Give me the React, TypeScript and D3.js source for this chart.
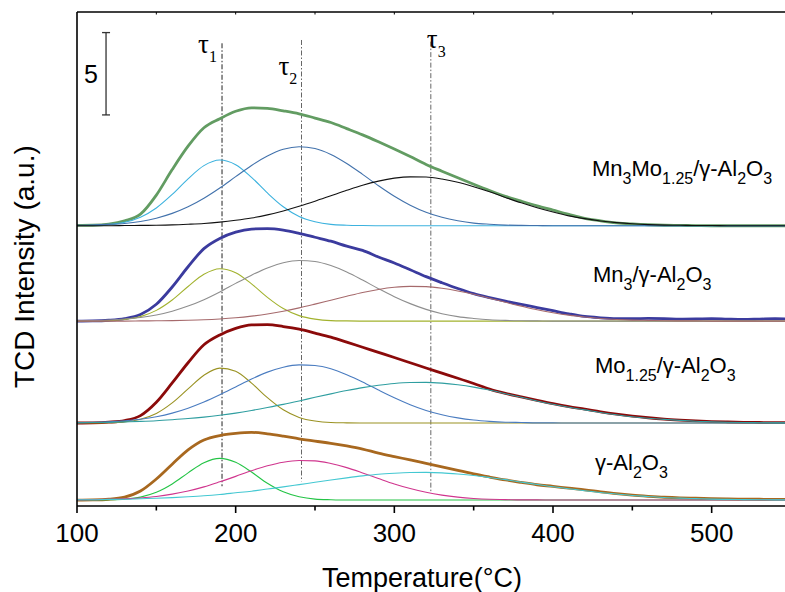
import React from 'react';
import * as d3 from 'd3';

// ---------- DATA ----------
const temperatures = [
  100, 110, 120, 130, 140, 150, 160, 170, 180, 190,
  200, 210, 220, 230, 240, 250, 260, 270, 280, 290,
  300, 310, 320, 330, 340, 350, 360, 370, 380, 390,
  400, 410, 420, 430, 440, 450, 460, 470, 480, 490,
  500, 510, 520, 530, 540, 550,
];

// Mn3Mo1.25/γ-Al2O3
const mnMoEnvelope = [
  0.02, 0.03, 0.1, 0.3, 0.7, 1.86, 3.41, 4.83, 5.95, 6.5,
  6.95, 7.16, 7.13, 6.98, 6.8, 6.54, 6.27, 5.9, 5.52, 5.1,
  4.66, 4.2, 3.72, 3.31, 2.91, 2.52, 2.14, 1.78, 1.49, 1.21,
  0.95, 0.69, 0.45, 0.3, 0.18, 0.11, 0.06, 0.03, 0.02, 0.01,
  0, 0, 0, 0, 0, 0,
];
const mnMoPeak1 = [
  0.01, 0.02, 0.08, 0.21, 0.52, 1.08, 1.9, 2.85, 3.65, 3.99,
  3.71, 2.94, 1.99, 1.15, 0.56, 0.24, 0.08, 0.03, 0.01, 0,
  0, 0, 0, 0, 0, 0, 0, 0, 0, 0,
  0, 0, 0, 0, 0, 0, 0, 0, 0, 0,
  0, 0, 0, 0, 0, 0,
];
const mnMoPeak2 = [
  0.02, 0.04, 0.08, 0.14, 0.26, 0.46, 0.75, 1.15, 1.67, 2.29,
  2.98, 3.66, 4.23, 4.64, 4.8, 4.69, 4.33, 3.78, 3.12, 2.43,
  1.79, 1.25, 0.82, 0.51, 0.3, 0.16, 0.09, 0.04, 0.02, 0.01,
  0, 0, 0, 0, 0, 0, 0, 0, 0, 0,
  0, 0, 0, 0, 0, 0,
];
const mnMoPeak3 = [
  0, 0, 0, 0.01, 0.02, 0.03, 0.05, 0.09, 0.14, 0.22,
  0.33, 0.47, 0.66, 0.9, 1.18, 1.49, 1.82, 2.15, 2.46, 2.71,
  2.89, 2.97, 2.96, 2.84, 2.64, 2.37, 2.06, 1.72, 1.39, 1.09,
  0.83, 0.6, 0.43, 0.29, 0.19, 0.12, 0.07, 0.04, 0.03, 0.01,
  0.01, 0, 0, 0, 0, 0,
];

// Mn3/γ-Al2O3
const mnEnvelope = [
  0, 0.01, 0.05, 0.15, 0.4, 1.02, 2.07, 3.3, 4.4, 5.02,
  5.4, 5.59, 5.62, 5.53, 5.33, 5.09, 4.85, 4.55, 4.29, 3.89,
  3.53, 3.12, 2.7, 2.33, 1.98, 1.67, 1.43, 1.21, 1.01, 0.82,
  0.63, 0.44, 0.28, 0.2, 0.15, 0.14, 0.16, 0.15, 0.12, 0.13,
  0.15, 0.12, 0.1, 0.12, 0.14, 0.12,
];
const mnPeak1 = [
  0, 0.01, 0.03, 0.1, 0.27, 0.65, 1.28, 2.1, 2.84, 3.18,
  2.94, 2.26, 1.44, 0.76, 0.33, 0.12, 0.03, 0.01, 0, 0,
  0, 0, 0, 0, 0, 0, 0, 0, 0, 0,
  0, 0, 0, 0, 0, 0, 0, 0, 0, 0,
  0, 0, 0, 0, 0, 0,
];
const mnPeak2 = [
  0.02, 0.03, 0.07, 0.13, 0.22, 0.37, 0.6, 0.91, 1.3, 1.77,
  2.29, 2.79, 3.23, 3.54, 3.68, 3.62, 3.37, 2.98, 2.49, 1.97,
  1.48, 1.06, 0.71, 0.45, 0.27, 0.16, 0.08, 0.04, 0.02, 0.01,
  0, 0, 0, 0, 0, 0, 0, 0, 0, 0,
  0, 0, 0, 0, 0, 0,
];
const mnPeak3 = [
  0, 0, 0, 0, 0.01, 0.02, 0.03, 0.05, 0.08, 0.13,
  0.2, 0.3, 0.43, 0.6, 0.8, 1.03, 1.27, 1.51, 1.74, 1.92,
  2.05, 2.11, 2.09, 1.99, 1.83, 1.63, 1.39, 1.14, 0.91, 0.69,
  0.51, 0.36, 0.25, 0.16, 0.1, 0.06, 0.04, 0.02, 0.01, 0.01,
  0, 0, 0, 0, 0, 0,
];

// Mo1.25/γ-Al2O3
const moEnvelope = [
  0, 0.01, 0.05, 0.15, 0.45, 1.26, 2.43, 3.66, 4.75, 5.35,
  5.75, 5.96, 5.97, 5.86, 5.7, 5.46, 5.21, 4.91, 4.6, 4.29,
  3.98, 3.66, 3.34, 3.03, 2.72, 2.4, 2.06, 1.8, 1.58, 1.37,
  1.17, 0.99, 0.84, 0.68, 0.54, 0.42, 0.32, 0.24, 0.18, 0.13,
  0.09, 0.06, 0.04, 0.03, 0.02, 0.02,
];
const moPeak1 = [
  0, 0, 0.02, 0.07, 0.23, 0.58, 1.22, 2.07, 2.9, 3.33,
  3.14, 2.42, 1.54, 0.8, 0.34, 0.12, 0.03, 0.01, 0, 0,
  0, 0, 0, 0, 0, 0, 0, 0, 0, 0,
  0, 0, 0, 0, 0, 0, 0, 0, 0, 0,
  0, 0, 0, 0, 0, 0,
];
const moPeak2 = [
  0.02, 0.04, 0.07, 0.13, 0.23, 0.38, 0.6, 0.9, 1.27, 1.71,
  2.19, 2.67, 3.09, 3.39, 3.53, 3.49, 3.29, 2.93, 2.49, 2.0,
  1.53, 1.11, 0.76, 0.5, 0.31, 0.18, 0.1, 0.05, 0.03, 0.01,
  0.01, 0, 0, 0, 0, 0, 0, 0, 0, 0,
  0, 0, 0, 0, 0, 0,
];
const moPeak3 = [
  0.02, 0.03, 0.04, 0.07, 0.1, 0.14, 0.2, 0.27, 0.36, 0.47,
  0.6, 0.76, 0.94, 1.13, 1.34, 1.56, 1.77, 1.97, 2.15, 2.29,
  2.4, 2.46, 2.47, 2.42, 2.32, 2.18, 2.0, 1.78, 1.56, 1.34,
  1.14, 0.96, 0.8, 0.64, 0.5, 0.38, 0.29, 0.22, 0.16, 0.11,
  0.08, 0.05, 0.03, 0.02, 0.01, 0.01,
];

// γ-Al2O3
const alEnvelope = [
  0, 0.01, 0.05, 0.18, 0.55, 1.28, 2.18, 3.05, 3.65, 3.92,
  4.05, 4.11, 4.02, 3.88, 3.72, 3.58, 3.45, 3.29, 3.1, 2.85,
  2.64, 2.44, 2.23, 2.02, 1.8, 1.59, 1.4, 1.22, 1.07, 0.93,
  0.83, 0.72, 0.62, 0.5, 0.39, 0.3, 0.23, 0.17, 0.13, 0.11,
  0.09, 0.07, 0.06, 0.05, 0.04, 0.04,
];
const alPeak1 = [
  0, 0, 0.02, 0.06, 0.18, 0.47, 0.98, 1.65, 2.27, 2.53,
  2.29, 1.7, 1.02, 0.5, 0.2, 0.06, 0.02, 0, 0, 0,
  0, 0, 0, 0, 0, 0, 0, 0, 0, 0,
  0, 0, 0, 0, 0, 0, 0, 0, 0, 0,
  0, 0, 0, 0, 0, 0,
];
const alPeak2 = [
  0.01, 0.02, 0.04, 0.07, 0.13, 0.22, 0.36, 0.55, 0.8, 1.11,
  1.44, 1.78, 2.08, 2.3, 2.4, 2.38, 2.22, 1.97, 1.65, 1.31,
  0.98, 0.7, 0.47, 0.3, 0.18, 0.1, 0.05, 0.03, 0.01, 0.01,
  0, 0, 0, 0, 0, 0, 0, 0, 0, 0,
  0, 0, 0, 0, 0, 0,
];
const alPeak3 = [
  0.02, 0.02, 0.04, 0.05, 0.08, 0.11, 0.15, 0.2, 0.26, 0.34,
  0.44, 0.54, 0.67, 0.8, 0.94, 1.08, 1.22, 1.35, 1.47, 1.57,
  1.63, 1.67, 1.68, 1.65, 1.58, 1.49, 1.37, 1.24, 1.09, 0.95,
  0.81, 0.69, 0.57, 0.46, 0.37, 0.28, 0.22, 0.16, 0.12, 0.09,
  0.06, 0.04, 0.03, 0.02, 0.01, 0.01,
];

// vertical stacking offsets (a.u.) of each sample's baseline
const sampleOffsets = [17.02, 11.23, 5.04, 0.36];

// sample names: [text, isSubscript]
const sampleNames: [string, boolean][][] = [
  [['Mn', false], ['3', true], ['Mo', false], ['1.25', true], ['/γ-Al', false], ['2', true], ['O', false], ['3', true]],
  [['Mn', false], ['3', true], ['/γ-Al', false], ['2', true], ['O', false], ['3', true]],
  [['Mo', false], ['1.25', true], ['/γ-Al', false], ['2', true], ['O', false], ['3', true]],
  [['γ-Al', false], ['2', true], ['O', false], ['3', true]],
];

// reduction peak markers (°C)
const tauTemps = [191.4, 241.5, 323];
const tauNames = ['1', '2', '3'];
const tauTop = [28.1, 28.3, 28.2];
const tauBottom = [1.2, 1.5, 0.9];

const xMajorTicks = [100, 200, 300, 400, 500];
const xMinorTicks = [150, 250, 350, 450];
const xTopTicks = [150, 200, 250, 300, 350, 400, 450, 500];
const scaleBarValue = 5;
const scaleBarTemp = 118.3;
const scaleBarBase = 23.75;

const xLabel = 'Temperature(°C)';
const yLabel = 'TCD Intensity (a.u.)';

// ---------- STYLES ----------
const envelopeColors = ['#629c62', '#3b3b9e', '#8b0a0a', '#a8681f'];
const peakColors = [
  ['#3cb2de', '#4272ac', '#111111'],
  ['#a2b22e', '#8e8e8e', '#a66a6c'],
  ['#9a9222', '#4a7cc0', '#2f9ea0'],
  ['#24c446', '#d0358e', '#44c8d2'],
];
const labelPos = [
  { x: 592, y: 176 },
  { x: 593, y: 282 },
  { x: 595, y: 373 },
  { x: 595, y: 470 },
];
const tauLabelPos = [
  { dx: -24, y: 53 },
  { dx: -23, y: 75 },
  { dx: -4, y: 48 },
];
const tauColors = ['#222', '#666', '#666'];

const W = 785;
const H = 592;
const L = 77;
const R = 791;
const T = 12;
const B = 506;
const SANS = '"Liberation Sans", Arial, sans-serif';
const SERIF = '"Liberation Serif", "Times New Roman", serif';

export default function App() {
  const x = d3.scaleLinear().domain([100, 550]).range([L, R]);
  const y = d3.scaleLinear().domain([0, 30]).range([B, T]);

  const samples = [
    { env: mnMoEnvelope, peaks: [mnMoPeak1, mnMoPeak2, mnMoPeak3] },
    { env: mnEnvelope, peaks: [mnPeak1, mnPeak2, mnPeak3] },
    { env: moEnvelope, peaks: [moPeak1, moPeak2, moPeak3] },
    { env: alEnvelope, peaks: [alPeak1, alPeak2, alPeak3] },
  ];

  const makeLine = (offset: number) =>
    d3
      .line<number>()
      .x((_, i) => x(temperatures[i]))
      .y((d) => y(d + offset))
      .curve(d3.curveMonotoneX);

  return (
    <svg
      width={W}
      height={H}
      style={{ position: 'absolute', left: 0, top: 0, background: '#fff', display: 'block' }}
    >
      <rect x={0} y={0} width={W} height={H} fill="#fff" />
      {/* tau lines */}
      {tauTemps.map((t, i) => (
        <line
          key={'tl' + i}
          x1={x(t)}
          x2={x(t)}
          y1={y(tauTop[i])}
          y2={y(tauBottom[i])}
          stroke={tauColors[i]}
          strokeWidth={1}
          strokeDasharray="5,2,1.5,2"
        />
      ))}
      {/* curves */}
      {samples.map((s, si) => {
        const line = makeLine(sampleOffsets[si]);
        return (
          <g key={'s' + si} fill="none">
            <path d={line(s.env) || ''} stroke={envelopeColors[si]} strokeWidth={2.8} strokeLinejoin="round" />
            {s.peaks.map((p, pi) => (
              <path key={pi} d={line(p) || ''} stroke={peakColors[si][pi]} strokeWidth={1.1} />
            ))}
          </g>
        );
      })}
      {/* axes */}
      <g stroke="#000" strokeWidth={1.6} fill="none">
        <line x1={L} x2={R} y1={B} y2={B} />
        <line x1={L} x2={L} y1={T} y2={B} />
        <line x1={L} x2={R} y1={T} y2={T} />
        {xMajorTicks.map((t) => (
          <line key={'M' + t} x1={x(t)} x2={x(t)} y1={B} y2={B + 7} />
        ))}
        {xMinorTicks.map((t) => (
          <line key={'m' + t} x1={x(t)} x2={x(t)} y1={B} y2={B + 4.5} />
        ))}
        {xTopTicks.map((t) => (
          <line key={'t' + t} x1={x(t)} x2={x(t)} y1={T} y2={T + 2.5} strokeWidth={1} />
        ))}
      </g>
      {xMajorTicks.map((t) => (
        <text key={'lab' + t} x={x(t)} y={542} textAnchor="middle" fontFamily={SANS} fontSize={26} fill="#000">
          {t}
        </text>
      ))}
      <text x={422} y={587} textAnchor="middle" fontFamily={SANS} fontSize={27} fill="#000">
        {xLabel}
      </text>
      <text
        transform={`translate(34, ${388}) rotate(-90)`}
        textAnchor="start"
        fontFamily={SANS}
        fontSize={28}
        fill="#000"
      >
        {yLabel}
      </text>
      {/* scale bar */}
      <g stroke="#333" strokeWidth={1.3}>
        <line x1={x(scaleBarTemp)} x2={x(scaleBarTemp)} y1={y(scaleBarBase)} y2={y(scaleBarBase + scaleBarValue)} />
        <line x1={x(scaleBarTemp) - 4} x2={x(scaleBarTemp) + 4} y1={y(scaleBarBase)} y2={y(scaleBarBase)} />
        <line
          x1={x(scaleBarTemp) - 4}
          x2={x(scaleBarTemp) + 4}
          y1={y(scaleBarBase + scaleBarValue)}
          y2={y(scaleBarBase + scaleBarValue)}
        />
      </g>
      <text x={98} y={83} textAnchor="end" fontFamily={SANS} fontSize={25} fill="#000">
        {scaleBarValue}
      </text>
      {/* tau labels */}
      {tauTemps.map((t, i) => (
        <text key={'tau' + i} x={x(t) + tauLabelPos[i].dx} y={tauLabelPos[i].y} fontFamily={SERIF} fontSize={27} fill="#000">
          τ
          <tspan dy={9} fontSize={16}>
            {tauNames[i]}
          </tspan>
        </text>
      ))}
      {/* sample labels */}
      {sampleNames.map((segs, si) => {
        let shift = 0;
        return (
          <text key={'n' + si} x={labelPos[si].x} y={labelPos[si].y} fontFamily={SANS} fontSize={22} fill="#000">
            {segs.map(([txt, sub], k) => {
              const target = sub ? 8 : 0;
              const dy = target - shift;
              shift = target;
              return (
                <tspan key={k} dy={dy} fontSize={sub ? 16 : 22}>
                  {txt}
                </tspan>
              );
            })}
          </text>
        );
      })}
    </svg>
  );
}
